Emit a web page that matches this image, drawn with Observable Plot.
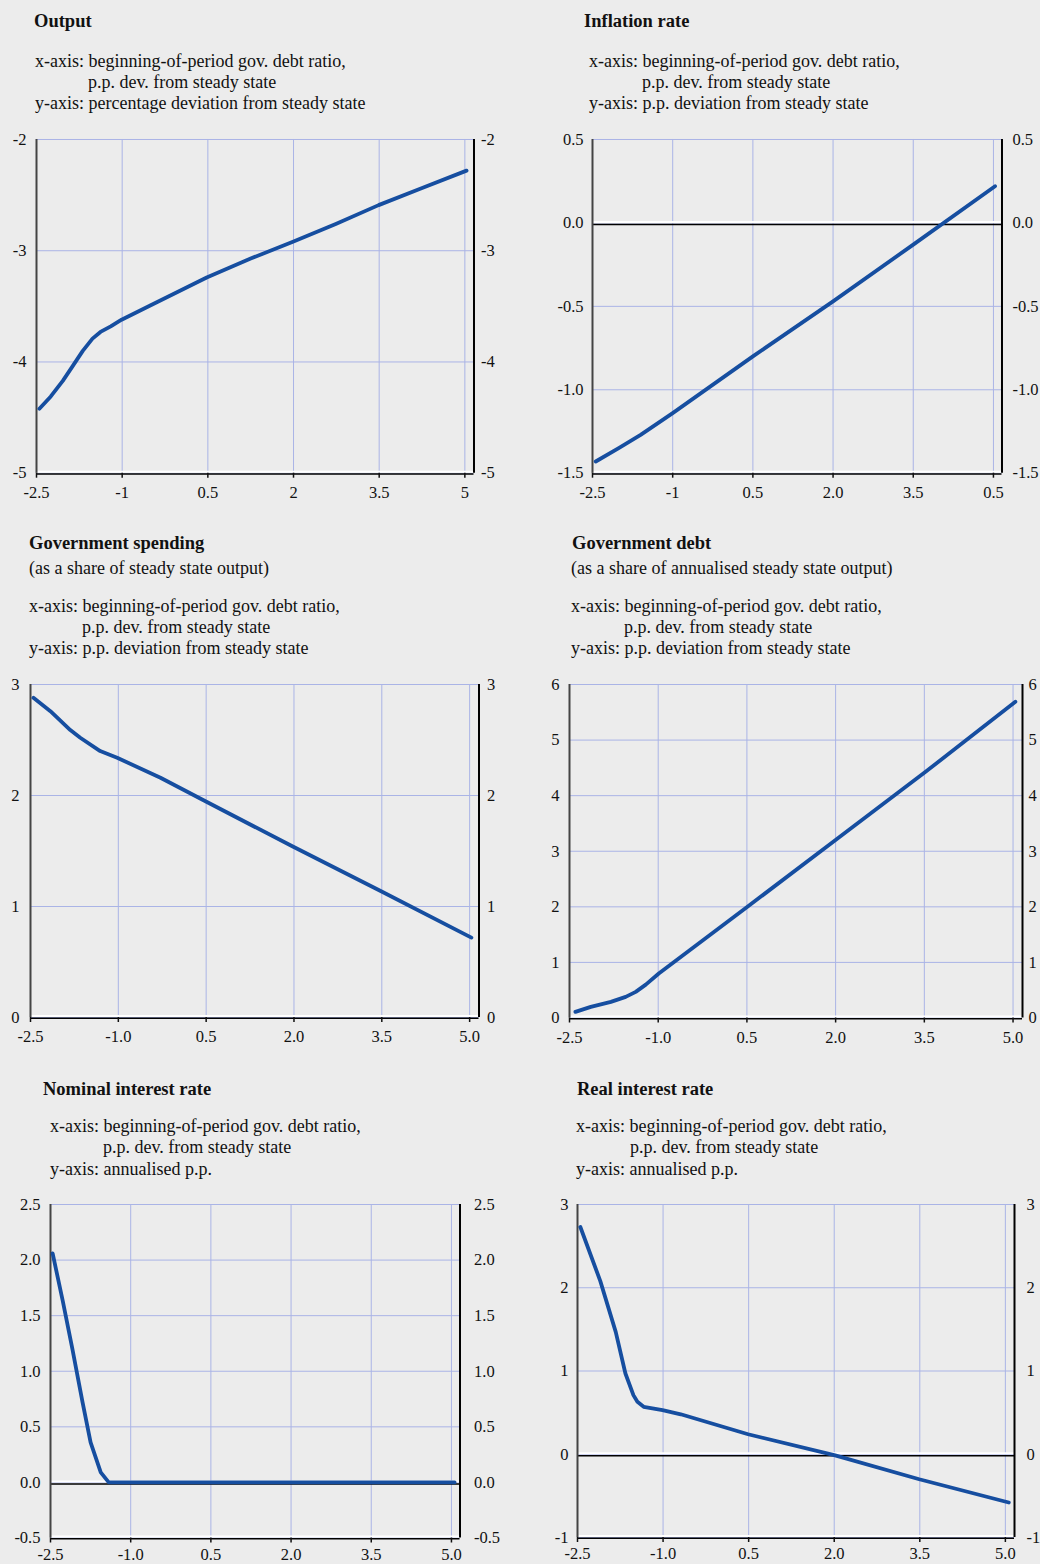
<!DOCTYPE html>
<html><head><meta charset="utf-8">
<script src="https://cdn.jsdelivr.net/npm/d3@7"></script>
<script src="https://cdn.jsdelivr.net/npm/@observablehq/plot@0.6"></script>
<style>
html,body{margin:0;padding:0;background:#ececec;overflow:hidden;}
#root{position:relative;width:1040px;height:1564px;background:#ececec;font-family:"Liberation Serif","Times New Roman",serif;color:#111;overflow:hidden;}
.t{position:absolute;white-space:pre;font-size:18px;line-height:21px;}
.b{font-weight:bold;font-size:18.5px;}
#root svg{position:absolute;overflow:visible;}
</style></head><body><div id="root"></div>
<script>
// ---------- text ----------
const titles = ["Output", "Inflation rate", "Government spending", "Government debt", "Nominal interest rate", "Real interest rate"];
const subtitles = [null, null, "(as a share of steady state output)", "(as a share of annualised steady state output)", null, null];
const xNote1 = "x-axis: beginning-of-period gov. debt ratio,";
const xNote2 = "p.p. dev. from steady state";
const yNotes = [
  "y-axis: percentage deviation from steady state",
  "y-axis: p.p. deviation from steady state",
  "y-axis: p.p. deviation from steady state",
  "y-axis: p.p. deviation from steady state",
  "y-axis: annualised p.p.",
  "y-axis: annualised p.p."
];

// ---------- ticks ----------
const xTicks = [-2.5, -1, 0.5, 2, 3.5, 5];
const xTickLabels1 = ["-2.5", "-1", "0.5", "2", "3.5", "5"];
const xTickLabels2 = ["-2.5", "-1", "0.5", "2.0", "3.5", "0.5"];
const xTickLabelsStd = ["-2.5", "-1.0", "0.5", "2.0", "3.5", "5.0"];

const yTicksOutput = [-5, -4, -3, -2];
const yLabelsOutput = ["-5", "-4", "-3", "-2"];
const yTicksInfl = [-1.5, -1, -0.5, 0, 0.5];
const yLabelsInfl = ["-1.5", "-1.0", "-0.5", "0.0", "0.5"];
const yTicksSpend = [0, 1, 2, 3];
const yLabelsSpend = ["0", "1", "2", "3"];
const yTicksDebt = [0, 1, 2, 3, 4, 5, 6];
const yLabelsDebt = ["0", "1", "2", "3", "4", "5", "6"];
const yTicksNom = [-0.5, 0, 0.5, 1, 1.5, 2, 2.5];
const yLabelsNom = ["-0.5", "0.0", "0.5", "1.0", "1.5", "2.0", "2.5"];
const yTicksReal = [-1, 0, 1, 2, 3];
const yLabelsReal = ["-1", "0", "1", "2", "3"];

// ---------- series ----------
const outputX = [-2.45, -2.25, -2.04, -1.87, -1.69, -1.52, -1.38, -1.20, -1.01, -0.50, 0.48, 1.25, 1.99, 2.74, 3.49, 4.23, 5.03];
const outputY = [-4.42, -4.31, -4.17, -4.04, -3.90, -3.79, -3.73, -3.68, -3.62, -3.49, -3.24, -3.07, -2.92, -2.76, -2.59, -2.44, -2.28];

const inflX = [-2.44, -2.01, -1.60, -1.00, 0.50, 2.00, 3.50, 5.03];
const inflY = [-1.43, -1.35, -1.27, -1.14, -0.80, -0.47, -0.13, 0.22];

const spendX = [-2.45, -2.16, -1.82, -1.65, -1.31, -1.02, -0.28, 0.48, 1.98, 3.48, 5.03];
const spendY = [2.88, 2.76, 2.59, 2.52, 2.40, 2.34, 2.16, 1.95, 1.54, 1.14, 0.72];

const debtX = [-2.40, -2.14, -1.80, -1.55, -1.38, -1.21, -0.99, 0.52, 2.01, 3.51, 5.04];
const debtY = [0.11, 0.20, 0.29, 0.38, 0.47, 0.60, 0.80, 2.01, 3.21, 4.42, 5.69];

const nomX = [-2.46, -2.27, -2.09, -1.90, -1.75, -1.56, -1.41, -1.20, 5.06];
const nomY = [2.06, 1.63, 1.20, 0.72, 0.36, 0.09, 0.0, 0.0, 0.0];

const realX = [-2.45, -2.10, -1.83, -1.66, -1.52, -1.45, -1.34, -1.01, -0.69, 0.49, 2.00, 3.49, 5.06];
const realY = [2.73, 2.08, 1.47, 0.97, 0.71, 0.63, 0.57, 0.53, 0.48, 0.24, -0.01, -0.30, -0.58];

// ---------- assembly ----------
const series = [
  {x: outputX, y: outputY, yt: yTicksOutput, yl: yLabelsOutput, xl: xTickLabels1, zero: false},
  {x: inflX, y: inflY, yt: yTicksInfl, yl: yLabelsInfl, xl: xTickLabels2, zero: true},
  {x: spendX, y: spendY, yt: yTicksSpend, yl: yLabelsSpend, xl: xTickLabelsStd, zero: false},
  {x: debtX, y: debtY, yt: yTicksDebt, yl: yLabelsDebt, xl: xTickLabelsStd, zero: false},
  {x: nomX, y: nomY, yt: yTicksNom, yl: yLabelsNom, xl: xTickLabelsStd, zero: true},
  {x: realX, y: realY, yt: yTicksReal, yl: yLabelsReal, xl: xTickLabelsStd, zero: true}
];

// layout (pixels on the page)
const layout = [
  {L: 36, R: 473.5, T: 139.3, B: 473, gL: 10, gR: 7, xPad: 8, title: [34, 27.7], sub: null, lines: [[35, 68], [88, 89], [35, 110]]},
  {L: 591.5, R: 1001, T: 139.3, B: 473, gL: 9, gR: 10.5, xPad: 8, title: [584, 27.7], sub: null, lines: [[589, 68], [642, 89], [589, 110]]},
  {L: 29.5, R: 478, T: 684, B: 1017, gL: 11, gR: 8, xPad: 8, title: [29, 550], sub: [29, 575], lines: [[29, 612.5], [82, 633.5], [29, 655]]},
  {L: 569, R: 1022, T: 683.5, B: 1017, gL: 10, gR: 6, xPad: 8, title: [572, 550], sub: [571, 575], lines: [[571, 612.5], [624, 633.5], [571, 655]]},
  {L: 50, R: 459.5, T: 1203.5, B: 1537, gL: 10, gR: 14, xPad: 5, title: [43, 1095.5], sub: null, lines: [[50, 1132.5], [103, 1154], [50, 1175.5]]},
  {L: 577, R: 1014, T: 1204, B: 1537, gL: 9, gR: 12, xPad: 5, title: [577, 1095.5], sub: null, lines: [[576, 1132.5], [630, 1154], [576, 1175.5]]}
];

const X_MIN = -2.5, X_MAX = 5.16;
const GRID = "#aab4e6";
const BLUE = "#164ea0";
const root = document.getElementById("root");
const BASE = 16.6;

function addText(txt, x, baseline, bold) {
  const d = document.createElement("div");
  d.className = bold ? "t b" : "t";
  d.textContent = txt;
  d.style.left = x + "px";
  d.style.top = (baseline - BASE) + "px";
  root.appendChild(d);
}

series.forEach((s, i) => {
  const p = layout[i];
  addText(titles[i], p.title[0], p.title[1], true);
  if (subtitles[i] && p.sub) addText(subtitles[i], p.sub[0], p.sub[1], false);
  addText(xNote1, p.lines[0][0], p.lines[0][1], false);
  addText(xNote2, p.lines[1][0], p.lines[1][1], false);
  addText(yNotes[i], p.lines[2][0], p.lines[2][1], false);

  const mL = 55, mR = 55, mT = 15, mB = 26;
  const w = p.R - p.L + mL + mR, h = p.B - p.T + mT + mB;
  const data = s.x.map((x, j) => ({x, y: s.y[j]}));
  const yLab = new Map(s.yt.map((v, j) => [v, s.yl[j]]));
  const xLab = new Map(xTicks.map((v, j) => [v, s.xl[j]]));
  const y0 = s.yt[0], y1 = s.yt[s.yt.length - 1];

  const marks = [
    Plot.gridX(xTicks, {stroke: GRID, strokeOpacity: 1, strokeWidth: 1}),
    Plot.gridY(s.yt, {stroke: GRID, strokeOpacity: 1, strokeWidth: 1})
  ];
  if (s.zero) {
    marks.push(Plot.ruleY([0], {stroke: "#ffffff", strokeWidth: 2, dy: -1}));
    marks.push(Plot.ruleY([0], {stroke: "#000000", strokeWidth: 1.5, dy: 1.5}));
  }
  marks.push(
    Plot.ruleY([y0], {stroke: "#ffffff", strokeWidth: 2, dy: -1.5}),
    Plot.ruleY([y0], {stroke: "#000000", strokeWidth: 1.5, dy: 0.75}),
    Plot.ruleX([X_MIN], {stroke: "#444444", strokeWidth: 2}),
    Plot.ruleX([X_MAX], {stroke: "#000000", strokeWidth: 2}),
    Plot.line(data, {x: "x", y: "y", stroke: BLUE, strokeWidth: 3.8, curve: "linear", strokeLinejoin: "round"}),
    Plot.axisY(s.yt, {anchor: "left", tickSize: 0, tickPadding: p.gL, tickFormat: d => yLab.get(d), label: null, fontSize: 16.5}),
    Plot.axisY(s.yt, {anchor: "right", tickSize: 0, tickPadding: p.gR, tickFormat: d => yLab.get(d), label: null, fontSize: 16.5}),
    Plot.axisX(xTicks, {anchor: "bottom", tickSize: 5, tickPadding: p.xPad, strokeWidth: 1.5, strokeOpacity: 1, tickFormat: d => xLab.get(d), label: null, fontSize: 16.5})
  );

  const svg = Plot.plot({
    width: w, height: h,
    marginLeft: mL, marginRight: mR, marginTop: mT, marginBottom: mB,
    style: {background: "transparent", fontFamily: "'Liberation Serif','Times New Roman',serif", fontSize: "16.5px", color: "#111", overflow: "visible"},
    x: {domain: [X_MIN, X_MAX]},
    y: {domain: [y0, y1]},
    marks
  });
  svg.style.left = (p.L - mL) + "px";
  svg.style.top = (p.T - mT) + "px";
  root.appendChild(svg);
});
</script>
</body></html>
